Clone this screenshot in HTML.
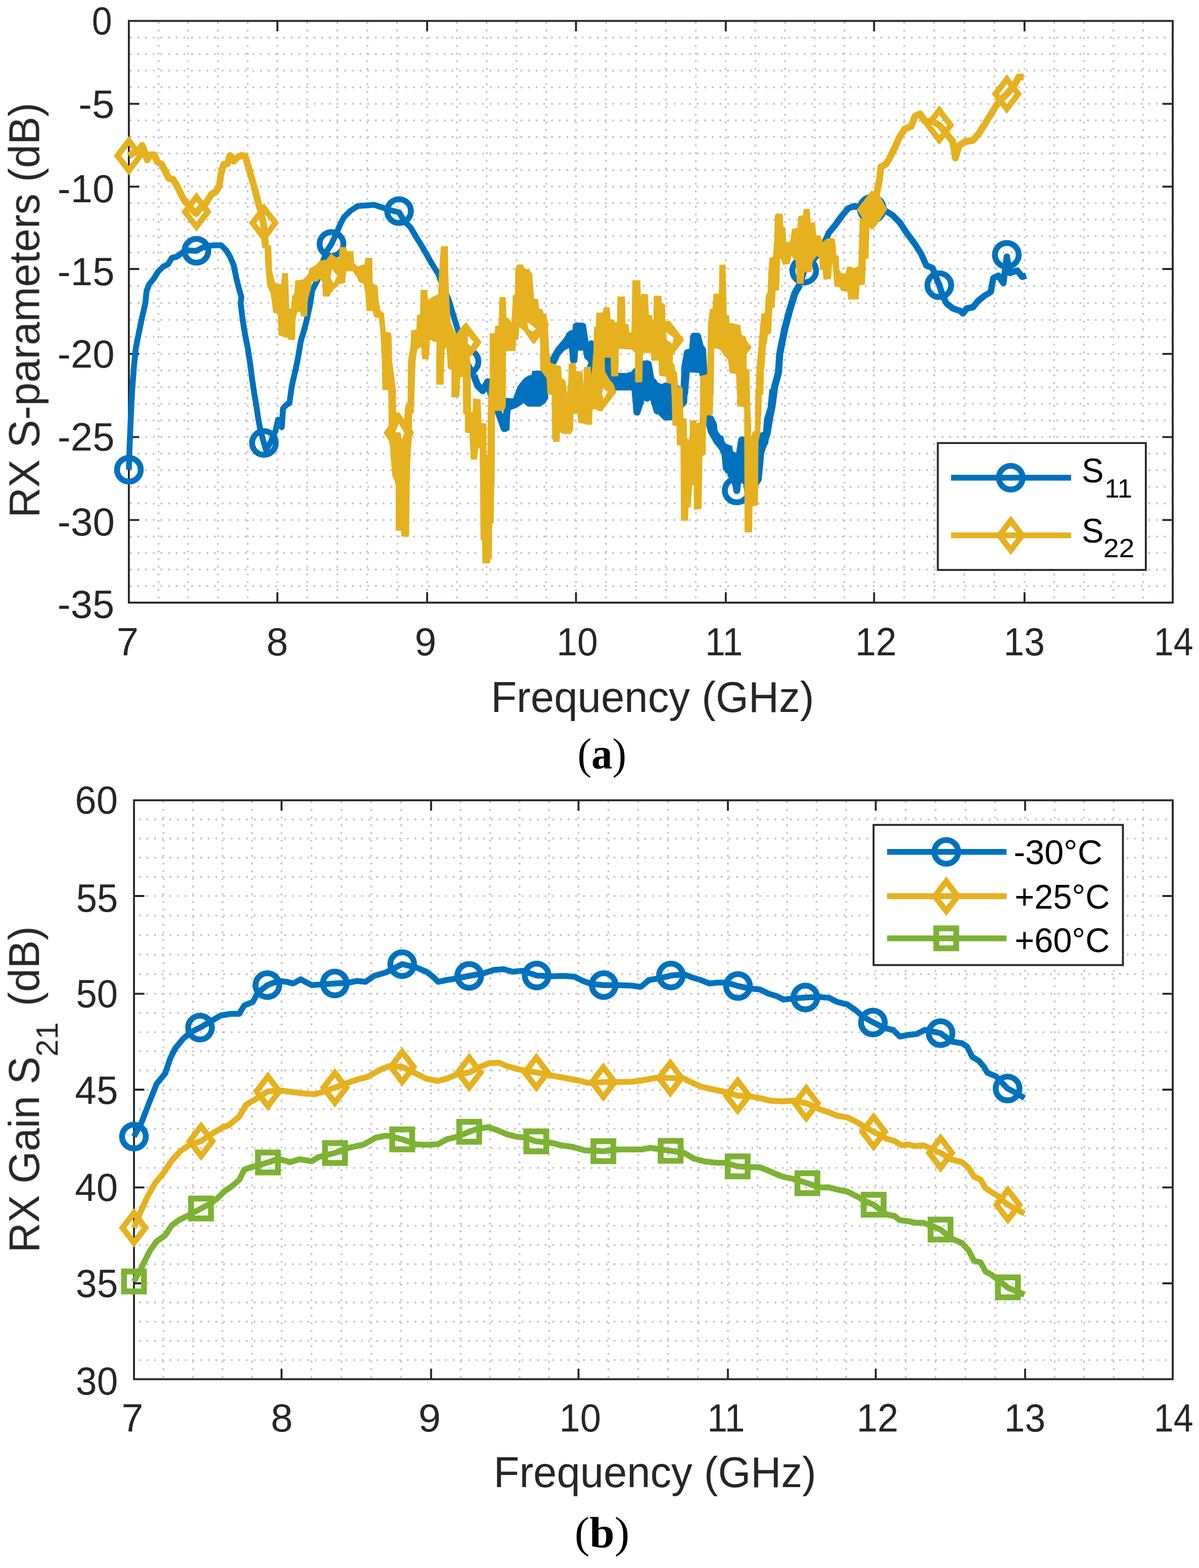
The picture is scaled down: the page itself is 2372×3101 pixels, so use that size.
<!DOCTYPE html>
<html lang="en"><head><meta charset="utf-8"><title>RX S-parameters and gain</title>
<style>
html,body{margin:0;padding:0;background:#fff}
body{width:2372px;height:3101px;overflow:hidden}
svg{display:block;font-family:"Liberation Sans",Arial,Helvetica,sans-serif}
</style></head><body>
<svg width="2372" height="3101" viewBox="0 0 2372 3101">
<defs><filter id="soft" filterUnits="userSpaceOnUse" x="0" y="0" width="2372" height="3101" color-interpolation-filters="sRGB"><feGaussianBlur stdDeviation="0.7"/></filter></defs>
<rect width="2372" height="3101" fill="#fff"/>
<g stroke="#c6c6c6" stroke-width="3.6" stroke-dasharray="3.6 11.55" fill="none">
<path d="M313.7 41.4V1191.8M372.4 41.4V1191.8M431.2 41.4V1191.8M489.9 41.4V1191.8M548.7 41.4V1191.8M608 41.4V1191.8M667.2 41.4V1191.8M726.5 41.4V1191.8M785.7 41.4V1191.8M845 41.4V1191.8M903.9 41.4V1191.8M962.8 41.4V1191.8M1021.7 41.4V1191.8M1080.6 41.4V1191.8M1139.5 41.4V1191.8M1198.8 41.4V1191.8M1258 41.4V1191.8M1317.3 41.4V1191.8M1376.5 41.4V1191.8M1435.8 41.4V1191.8M1494.5 41.4V1191.8M1553.2 41.4V1191.8M1611.8 41.4V1191.8M1670.5 41.4V1191.8M1729.2 41.4V1191.8M1788.7 41.4V1191.8M1848.2 41.4V1191.8M1907.8 41.4V1191.8M1967.3 41.4V1191.8M2026.8 41.4V1191.8M2085.4 41.4V1191.8M2144.1 41.4V1191.8M2202.7 41.4V1191.8M2261.4 41.4V1191.8" stroke-dashoffset="13.11"/>
<path d="M254.9 74.2H2320M254.9 107H2320M254.9 139.8H2320M254.9 172.6H2320M254.9 205.4H2320M254.9 238.1H2320M254.9 270.9H2320M254.9 303.6H2320M254.9 336.4H2320M254.9 369.1H2320M254.9 401.7H2320M254.9 434.3H2320M254.9 466.8H2320M254.9 499.4H2320M254.9 532H2320M254.9 565.6H2320M254.9 599.2H2320M254.9 632.7H2320M254.9 666.3H2320M254.9 699.9H2320M254.9 732.8H2320M254.9 765.7H2320M254.9 798.5H2320M254.9 831.4H2320M254.9 864.3H2320M254.9 897.1H2320M254.9 929.9H2320M254.9 962.8H2320M254.9 995.6H2320M254.9 1028.4H2320M254.9 1061.1H2320M254.9 1093.8H2320M254.9 1126.4H2320M254.9 1159.1H2320" stroke-dashoffset="13.18"/>
</g>
<path d="M548.7 41.4v20.5M548.7 1191.8v-20.5M845 41.4v20.5M845 1191.8v-20.5M1139.5 41.4v20.5M1139.5 1191.8v-20.5M1435.8 41.4v20.5M1435.8 1191.8v-20.5M1729.2 41.4v20.5M1729.2 1191.8v-20.5M2026.8 41.4v20.5M2026.8 1191.8v-20.5M254.9 205.4h20.5M2320 205.4h-20.5M254.9 369.1h20.5M2320 369.1h-20.5M254.9 532h20.5M2320 532h-20.5M254.9 699.9h20.5M2320 699.9h-20.5M254.9 864.3h20.5M2320 864.3h-20.5M254.9 1028.4h20.5M2320 1028.4h-20.5" stroke="#262626" stroke-width="3.8" fill="none"/>
<rect x="254.9" y="41.4" width="2065.1" height="1150.4" stroke="#262626" stroke-width="3.8" fill="none"/>
<rect x="1855.3" y="876.2" width="411.5" height="251" fill="#fff" stroke="#262626" stroke-width="3.8"/>
<g stroke="#c6c6c6" stroke-width="3.6" stroke-dasharray="3.6 11.55" fill="none">
<path d="M323.5 1582.7V2727.6M381.9 1582.7V2727.6M440.2 1582.7V2727.6M498.6 1582.7V2727.6M557 1582.7V2727.6M616.2 1582.7V2727.6M675.3 1582.7V2727.6M734.5 1582.7V2727.6M793.6 1582.7V2727.6M852.8 1582.7V2727.6M911.1 1582.7V2727.6M969.5 1582.7V2727.6M1027.8 1582.7V2727.6M1086.2 1582.7V2727.6M1144.5 1582.7V2727.6M1203.6 1582.7V2727.6M1262.7 1582.7V2727.6M1321.8 1582.7V2727.6M1380.9 1582.7V2727.6M1440 1582.7V2727.6M1498.5 1582.7V2727.6M1557 1582.7V2727.6M1615.5 1582.7V2727.6M1674 1582.7V2727.6M1732.5 1582.7V2727.6M1791.6 1582.7V2727.6M1850.7 1582.7V2727.6M1909.8 1582.7V2727.6M1968.9 1582.7V2727.6M2028 1582.7V2727.6M2086.4 1582.7V2727.6M2144.8 1582.7V2727.6M2203.2 1582.7V2727.6M2261.6 1582.7V2727.6" stroke-dashoffset="12.95"/>
<path d="M265.1 1620.6H2320M265.1 1658.4H2320M265.1 1696.3H2320M265.1 1734.1H2320M265.1 1772H2320M265.1 1810.7H2320M265.1 1849.3H2320M265.1 1888H2320M265.1 1926.6H2320M265.1 1965.3H2320M265.1 2003.2H2320M265.1 2041.2H2320M265.1 2079.1H2320M265.1 2117.1H2320M265.1 2155H2320M265.1 2193.7H2320M265.1 2232.4H2320M265.1 2271H2320M265.1 2309.7H2320M265.1 2348.4H2320M265.1 2386.3H2320M265.1 2424.2H2320M265.1 2462.2H2320M265.1 2500.1H2320M265.1 2538H2320M265.1 2575.9H2320M265.1 2613.8H2320M265.1 2651.8H2320M265.1 2689.7H2320" stroke-dashoffset="5.65"/>
</g>
<path d="M557 1582.7v20.5M557 2727.6v-20.5M852.8 1582.7v20.5M852.8 2727.6v-20.5M1144.5 1582.7v20.5M1144.5 2727.6v-20.5M1440 1582.7v20.5M1440 2727.6v-20.5M1732.5 1582.7v20.5M1732.5 2727.6v-20.5M2028 1582.7v20.5M2028 2727.6v-20.5M265.1 1772h20.5M2320 1772h-20.5M265.1 1965.3h20.5M2320 1965.3h-20.5M265.1 2155h20.5M2320 2155h-20.5M265.1 2348.4h20.5M2320 2348.4h-20.5M265.1 2538h20.5M2320 2538h-20.5" stroke="#262626" stroke-width="3.8" fill="none"/>
<rect x="265.1" y="1582.7" width="2054.9" height="1144.9" stroke="#262626" stroke-width="3.8" fill="none"/>
<rect x="1728.2" y="1631.4" width="493.3" height="277.2" fill="#fff" stroke="#262626" stroke-width="3.8"/>
<g filter="url(#soft)">
<polyline points="255,928.8 256.2,887.5 258.8,825 261.2,775 265,725 268.8,687.5 273.8,662.5 280,632.5 287.5,600 290,575 295,562.5 305,550 312.5,537.5 322.5,527.5 332.5,522.5 340,510 350,507.5 360,500 370,495 388.5,496.2 400,490 412.5,486.2 425,485 437.5,485 447.5,495 455,507.5 462.5,525 467.5,550 472.5,570 477.5,587.5 476.2,600 480,632.5 485,662.5 490,687.5 495,720 498.8,750 502.5,775 507.5,805 511.2,830 515,850 522.2,876.2 526.2,890 535,875 545,852.5 550,830 557.5,845 560,807.5 567.5,800 572.5,797.5 577.5,762.5 585,730 590,705 595,675 602.5,650 607.5,630 613.8,600 617.5,575 627.5,555 637.5,520 647.5,495 655.8,482.5 665,462.5 672.5,445 680,430 692.5,417.5 707.5,407.5 725,406.2 740,405 755,410 770,415 789.5,420 800,437.5 812.5,450 822.5,467.5 835,487.5 845,505 855,522.5 867.5,542.5 877.5,570 887.5,592.5 895,617.5 905,650 915,685 923,715 937.5,742.5" stroke="#0072bd" stroke-width="11.6" fill="none" stroke-linejoin="round" stroke-linecap="butt"/>
<polyline points="937.5,742.5 945,762.5 955,772.5 965,755 975,792.5 985,812.5 997.5,847.5 1005,800 1020,795 1030,767.5 1042.5,755 1056.5,770 1070,740 1080,755 1085,730 1095,710 1105,692.5 1117.5,677.5 1130,660 1135,712.5 1140,645 1152.5,645 1157.5,677.5 1162.5,705 1170,680 1180,705 1190.2,730 1202.5,710 1205,730 1215,747.5 1230,745 1240,745 1255,740 1260,815 1267.5,792.5 1275,722.5 1280,787.5 1292.5,755 1300,812.5 1272.5,720 1282.5,720 1287.5,750 1297.5,762.5 1310,767.5 1323.8,785 1335,812.5 1352.5,795 1355,725 1360,697.5 1370,695 1372.5,665 1380,665 1385,685 1390,692.5 1392.5,742.5 1400,825 1410,850 1420,865 1432.5,885 1440,930 1450,900 1457.5,970 1467.5,870 1480,977.5 1500,947.5 1505,895 1510,880 1517.5,857.5 1522.5,827.5 1527.5,802.5 1532.5,765 1540,737.5 1542.5,700 1552.5,650 1562.5,612.5 1572.5,580 1582.5,562.5" stroke="#0072bd" stroke-width="14" fill="none" stroke-linejoin="round" stroke-linecap="butt"/>
<polyline points="1582.5,562.5 1591,535 1610,512.5 1620,500 1630,482.5 1640,460 1652.5,445 1665,427.5 1677.5,412.5 1690,407.5 1702.5,410 1724.5,415 1752.5,417.5 1765,425 1780,440 1795,462.5 1810,482.5 1822.5,502.5 1832.5,525 1845,530 1852.5,550 1858.2,563.8 1865,585 1872.5,600 1885,610 1900,615 1905,620 1912.5,610 1925,607.5 1935,595 1947.5,585 1960,577.5 1965,550 1975,545 1985,560 1991.8,507.5 1997.5,540 2012.5,535 2022.5,547.5 2030,545" stroke="#0072bd" stroke-width="12.5" fill="none" stroke-linejoin="round" stroke-linecap="butt"/>
<g fill="#0072bd" stroke="#0072bd" stroke-width="1.5" stroke-linejoin="round">
<polygon points="1091.1,719.3 1094.6,703.2 1103.6,685.4 1116.1,676.4 1121.4,658.6 1133.9,656.8 1135.7,642.5 1155.4,642.5 1157.1,676.4 1173.2,678.2 1175.9,724.6 1169.6,724.6 1160.7,710.4 1158.9,692.5 1142.9,692.5 1141.1,715.7 1128.6,713.9 1126.8,687.1 1116.1,692.5 1107.1,703.2 1100,719.3"/>
<polygon points="1000,787.5 1023.2,789.3 1028.6,758.9 1035.7,751.8 1051.8,744.6 1053.6,733.9 1080.4,733.9 1083,753.6 1083.9,787.5 1078.6,796.4 1067.9,803.6 1044.6,803.6 1035.7,796.4 1023.2,805.4 1008.9,810.7 1007.1,850 1000,853.6"/>
<polygon points="1195.5,707.1 1208.9,707.1 1210.7,735.7 1217,737.5 1237.5,738.4 1241.1,742.9 1250,741.1 1251.8,732.1 1271.4,716.1 1283.9,716.1 1285.7,746.4 1292.9,750 1294.6,762.5 1300,764.3 1300,816.1 1294.6,803.6 1292.9,792.9 1285.7,789.3 1278.6,783.9 1267.9,791.1 1266.1,817.9 1255.4,817.9 1253.6,807.1 1250,771.4 1217,771.4 1212.5,758.9 1196.4,737.5"/>
<polygon points="1280,712.1 1285.4,744.3 1294.3,758.6 1303.2,767.5 1315.7,763.9 1328.2,762.1 1330,780 1280,780"/>
<polygon points="1351.4,780 1353.2,721.1 1358.6,697.9 1369.3,694.3 1371.1,663.9 1383.6,663.9 1385.4,683.6 1390.7,688.9 1394.3,717.5 1396.1,742.5 1385.4,744.3 1383.6,737.1 1363.9,735.4 1362.1,756.8 1360.4,780"/>
<polygon points="1280,770 1358.6,770 1356.8,793.2 1351.4,796.8 1328.2,830.7 1313.9,830.7 1297.9,814.6 1292.5,793.2 1280,784.3"/>
<polygon points="1397.9,821.8 1410.4,823.6 1417.5,837.9 1419.3,859.3 1430,862.9 1433.6,877.1 1447.9,882.5 1450.5,898.6 1456.8,896.8 1460.4,873.6 1471.1,867.3 1473.8,870 1473.8,948.6 1458.6,948.6 1451.4,966.4 1446.1,948.6 1439.8,941.4 1440.7,932.5 1430.9,928.9 1428.2,898.6 1422.9,887.9 1413.9,877.1 1408.6,868.2 1401.4,855.7 1397.9,841.4"/>
<polygon points="1499.6,873.6 1503.2,857.5 1510.4,853.9 1512.1,828.9 1519.3,805.7 1522.9,770 1535.4,770 1531.8,805.7 1526.4,820 1521.1,850.4 1519.3,877.1 1510.4,886.1 1506.8,895 1505,939.6 1499.6,953.9"/>
</g>
<g stroke="#0072bd" stroke-width="11.6" fill="none" stroke-linejoin="miter">
<circle cx="255" cy="929" r="23.5"/><circle cx="388.6" cy="496" r="23.5"/><circle cx="522.2" cy="876" r="23.5"/><circle cx="655.8" cy="482.5" r="23.5"/><circle cx="789.4" cy="417.5" r="23.5"/><circle cx="923" cy="715" r="23.5"/><circle cx="1056.6" cy="770" r="23.5"/><circle cx="1190.2" cy="731" r="23.5"/><circle cx="1323.8" cy="785" r="23.5"/><circle cx="1457.4" cy="970" r="23.5"/><circle cx="1591" cy="535" r="23.5"/><circle cx="1724.6" cy="413" r="23.5"/><circle cx="1858.2" cy="564" r="23.5"/><circle cx="1991.8" cy="504" r="23.5"/>
</g>
<polyline points="255,308 267.5,300 275,297.5 281.2,287.5 286.2,300 291.2,316.2 297.5,306.2 305,306.2 311.2,320 320,325 326.2,337.5 333.8,352.5 342.5,355 350,367.5 357.5,382.5 365,397.5 372.5,405 380,415 388,422.5 395,412.5 402.5,410 410,397.5 417.5,385 427.5,378.8 433.8,367.5 437.5,342.5 442.5,325 450,323.8 455,307.5 462.5,318.8 470,311.2 477.5,307.5 485,308.8 490,325 495,342.5 500,360 505,377.5 510,397.5 515,415 521.2,441.2 525,480 523.5,474 525.5,490" stroke="#e6b11f" stroke-width="13.5" fill="none" stroke-linejoin="round" stroke-linecap="butt"/>
<polyline points="1707.5,455 1724.5,415 1735,380 1740,355 1742.5,330 1752.5,325 1760,312.5 1770,292.5 1780,270 1790,255 1802.5,250 1810,230 1820,225 1830,240 1845,240 1858.2,247.5 1875,267.5 1885,280 1890,312.5 1897.5,287.5 1910,280 1925,277.5 1937.5,262.5 1950,242.5 1962.5,222.5 1975,202.5 1991.8,186.2 2007.5,167.5 2015,152.5 2025,152.5" stroke="#e6b11f" stroke-width="13.5" fill="none" stroke-linejoin="round" stroke-linecap="butt"/>
<g fill="#e6b11f" stroke="#e6b11f" stroke-width="1.5" stroke-linejoin="round">
<polygon points="524.1,483.9 535.7,485.7 536.6,507.1 537.5,535.7 542.9,557.1 546.4,562.5 557.1,562.5 558.9,541.1 568.8,541.1 570.5,578.6 571.4,610.7 576.8,610.7 578.6,585.7 583,580.4 584.8,555.4 600,553.6 610.7,542.9 612.5,532.1 625,525 633,516.1 646.4,514.3 655.4,501.8 660.7,507.1 671.4,512.5 672.3,489.3 683.9,489.3 685.7,497.3 698.2,497.3 700,521.4 708.9,528.6 714.3,525 722.3,523.2 723.2,510.7 735.7,510.7 736.6,560.7 746.4,566.1 748.2,592.9 751.8,614.3 758.9,619.6 762.5,657.1 773.2,658.9 775,700 755.4,700 753.6,658.9 750,628.6 741.1,626.8 737.5,614.3 725.9,614.3 723.2,576.8 719.6,560.7 710.7,557.1 707.1,548.2 698.2,535.7 683.9,535.7 682.1,558.9 671.4,560.7 666.1,566.1 655.4,575 651.8,585.7 639.3,585.7 638.4,557.1 632.1,550 628.6,555.4 616.1,557.1 614.3,571.4 608,592.9 607.1,625 596.4,625 594.6,616.1 587.5,616.1 583.9,632.1 583,671.4 571.4,671.4 569.6,667.9 551.8,662.5 550,619.6 541.1,617.9 538.4,596.4 535.7,578.6 529.5,566.1 526.8,539.3 525,514.3"/>
<polygon points="753.6,660 773.2,660 775,713.6 778.6,740.4 782.1,767.1 783,817.1 788.4,815.4 796.4,826.1 800,831.4 802.7,802.9 807.1,795.7 808,713.6 812.5,686.8 814.3,660 850,660 849.1,686.8 847.3,710 835.7,710 833.9,685 825,690.4 821.4,713.6 819.6,767.1 817.9,815.4 814.3,820.7 814.3,849.3 817.9,856.4 814.3,863.6 812.5,883.2 810.7,918.9 808.9,960 783.9,960 778.6,942.1 775,918.9 772.3,883.2 769.6,870.7 759.8,856.4 769.6,842.1 768.8,770.7 757.1,770.7 756.2,713.6"/>
<polygon points="855.4,660 855.4,674.3 864.3,676.1 863.4,760 876.8,760 878.6,692.1 883.9,683.2 886.6,727.9 893.8,731.4 893.8,785 908,785 909.8,745.7 916.1,743.9 917,817.1 920.5,820.7 920.5,854.6 929.5,856.4 932.1,908.2 942.9,908.2 945.5,885 950,886.8 950.9,960 961.6,960 961.6,838.6 951.8,836.8 950,790.4 936.6,788.6 935.7,815.4 931.2,815.4 930.4,720.7 927.7,702.9 937.5,695.7 950,676.1 937.5,660"/>
<polygon points="969.6,660 1000,660 1000,802.9 996.4,811.8 978.6,811.8 977.7,960 964.3,960 966.1,793.9 969.6,749.3"/>
<polygon points="773.2,900 810.7,900 809.8,953.6 808.6,1060.7 794.6,1060.7 794.3,1049.1 783.6,1049.1 783.6,942.9 776.8,942 775,917.9"/>
<polygon points="950,900 977.7,900 976.8,971.4 975.9,1033.9 972.9,1035.7 972.3,1105.4 968.8,1106.2 968.8,1113.4 955,1113.4 954.5,1067.9 951.4,1067"/>
<polygon points="813.9,672.1 813.9,654.3 824.6,652.5 825.5,623.9 831.8,622.1 832.7,573.9 844.3,573.9 846.1,593.6 858.6,586.4 867.5,582.9 869.3,536.4 872.9,488.2 885.4,487.3 886.2,540 888,591.8 890.7,636.4 901.4,663.2 910.4,650.7 922,638.2 933.6,654.3 950.5,677.5 940.7,693.6 933.6,672.1"/>
<polygon points="969.3,740 971.1,700.7 978.2,698.9 980,645.4 987.1,643.6 988.9,588.2 999.6,588.2 1001.4,627.5 1008.6,632.9 1012.1,641.8 1015.7,584.6 1019.3,582.9 1020.2,531.1 1023.8,523.9 1033.6,523.9 1037.1,531.1 1046.1,534.6 1052.3,541.8 1055.9,591.8 1063.9,592.7 1065.7,611.4 1072.9,613.2 1074.6,620.4 1080,622.1 1080,663.2 1069.3,663.2 1055,677.5 1038.9,654.3 1026.4,645.4 1024.6,670.4 1020.2,672.1 1019.3,693.6 999.6,693.6 998.8,740"/>
<polygon points="1000,628.2 1007.1,640.7 1014.3,640.7 1015.2,585.4 1019.6,583.6 1020.5,531.8 1023.2,524.6 1033.9,524.6 1035.7,531.8 1045.5,533.6 1051.8,540.7 1053.6,590.7 1063.4,592.5 1065.2,610.4 1071.4,612.1 1073.2,621.1 1080.4,622.9 1083,637.1 1083.9,658.6 1085.7,694.3 1087.5,719.3 1108.9,726.4 1110.7,747.9 1117.9,753.2 1121.4,780 1083.9,780 1082.1,747.9 1071.4,733.6 1070.5,730 1068.8,665.7 1062.5,669.3 1053.6,678.2 1042.9,662.1 1035.7,651.4 1026.8,644.3 1025,667.5 1019.6,672.9 1017.9,692.5 1000,694.3"/>
<polygon points="1126.8,719.3 1137.5,719.3 1139.3,735.4 1151.8,737.1 1153.6,780 1125.9,780"/>
<polygon points="1157.1,726.4 1167.9,726.4 1169.6,755 1174.1,755 1175,676.4 1175.9,647.9 1179.5,646.1 1180.4,619.3 1192.9,618.4 1194.6,608.6 1205.4,608.6 1207.1,631.8 1214.3,633.6 1216.1,638.9 1221.4,637.1 1222.3,587.1 1235.7,587.1 1236.6,640.7 1242.9,642.5 1244.6,658.6 1248.2,658.6 1250,653.2 1251.8,555 1266.1,555 1267,590.7 1269.6,581.8 1281.2,582.7 1283,622.9 1289.3,624.6 1290.2,640.7 1294.6,635.4 1294.6,585.4 1300,585.4 1300,712.1 1289.3,712.1 1289.3,697 1271.4,697 1269.6,755 1257.1,755 1257.1,697.9 1250,690.7 1223.2,688.9 1222.3,743.4 1209.8,743.4 1208.9,706.8 1194.6,706.8 1195.5,733.6 1203.6,747.9 1214.3,765.7 1214.3,780 1157.1,780"/>
<polygon points="1068.8,700 1087.5,700 1088.4,717.9 1108.9,725 1110.7,750 1117.9,753.6 1121.4,789.3 1125,753.6 1125.9,719.6 1137.5,717.9 1139.3,733.9 1151.8,735.7 1153.6,785.7 1156.2,726.8 1167.9,725.9 1169.6,751.8 1172.3,726.8 1174.1,700 1194.6,700 1195.5,707.1 1196.4,737.5 1201.8,746.4 1207.1,753.6 1212.5,758.9 1216.1,767.9 1214.3,776.8 1201.8,792.9 1196.4,801.8 1189.3,812.5 1185.7,812.5 1175.9,807.1 1171.4,810.7 1170.5,839.3 1160.7,839.3 1157.1,837.5 1144.6,835.7 1142.9,816.1 1133.9,817.9 1133,850 1128.6,858 1114.3,857.1 1107.1,853.6 1106.2,873.2 1095.5,873.2 1092.9,866.1 1092,769.6 1085.7,767.9 1083.9,753.6 1082.1,733.9 1069.6,732.1"/>
<polygon points="1208.9,700 1223.2,700 1222.3,742.9 1209.8,742.9"/>
<polygon points="1257.1,700 1270.5,700 1269.6,755.4 1258,755.4"/>
<polygon points="1289.3,700 1300,700 1300,712.5 1289.3,712.5"/>
<polygon points="1280,622.9 1288.9,624.6 1290.7,633.6 1293.4,631.8 1294.3,587.1 1307.7,585.4 1308.6,599.6 1314.8,601.4 1315.7,637.1 1322,635.4 1333.6,647.9 1340.7,658.6 1351.4,672.9 1342.5,685.4 1335.4,694.3 1330.9,701.4 1330,717.5 1333.6,721.1 1335.4,733.6 1338.9,737.1 1340.7,765.7 1349.6,767.5 1349.6,780 1329.1,780 1328.2,758.6 1319.3,756.8 1318.4,744.3 1305,742.5 1303.2,712.1 1289.8,712.1 1288.9,697.9 1280,697"/>
<polygon points="1385.4,780 1386.2,744.3 1399.6,740.7 1401.4,640.7 1405,612.1 1410.4,610.4 1412.1,581.8 1422.9,580.9 1423.8,524.6 1434.5,523.8 1437.1,622.9 1441.6,624.6 1442.5,638.9 1452.3,640.7 1463.9,643.4 1466.6,663.9 1474.6,665.7 1476.4,676.4 1483.6,688.9 1476.4,697.9 1476.4,730 1481.8,731.8 1482.7,780 1458.6,780 1456.8,738.9 1444.3,737.1 1440.7,710.4 1431.8,701.4 1426.4,692.5 1418.4,688 1412.1,688.9 1411.2,780"/>
<polygon points="1496.1,780 1497,730 1501.4,683.6 1505,640.7 1507.7,621.1 1513.9,619.3 1515.7,585.4 1519.3,580 1521.1,533.6 1522.9,510.4 1530,508.6 1531.8,480 1580,480 1580,515.7 1574.6,512.1 1572.9,499.6 1565.7,497.9 1562.1,521.1 1549.6,522.9 1546.1,513.9 1542.5,506.8 1539.8,572.9 1533.6,574.6 1531.8,606.8 1526.4,610.4 1524.6,658.6 1516.6,662.1 1513.9,694.3 1512.1,721.1 1510.4,733.6 1509.5,780"/>
<polygon points="1329.1,770 1349.6,770 1350.5,796.8 1351.4,827.1 1357.7,828.9 1358.6,868.2 1364.8,870 1365.7,832.5 1376.4,831.6 1377.3,837.9 1384.5,836.1 1385.4,816.4 1386.2,770 1410.4,770 1409.5,820 1397.9,820.9 1396.1,841.4 1395.2,898.6 1388.9,902.1 1387.1,1005.7 1373.8,1007.5 1372.9,957.5 1368.4,959.3 1365.7,1002.1 1361.2,1003.9 1360.4,1028.9 1347.9,1028.9 1347,880.7 1339.8,879.8 1338.9,841.4 1330.9,840.5"/>
<polygon points="1459.5,770 1482.7,770 1483.6,805.7 1485.4,846.8 1484.5,871.8 1488.9,855.7 1494.3,852.1 1495.2,770 1506.8,770 1505.9,805.7 1503.2,857.5 1499.6,873.6 1498.8,998.6 1488,1000.4 1487.1,1052.1 1473.8,1052.1 1472.9,805.7 1469.3,803.9 1458.6,803"/>
<polygon points="1503.2,680 1506.8,621.1 1514.8,619.3 1517.5,580 1522,578.2 1522.9,510.4 1531.8,508.6 1533.6,426.4 1537.1,422.9 1547.9,423.8 1548.8,447.9 1553.2,451.4 1555,480 1563.9,478.2 1567.5,453.2 1578.2,451.4 1580,428.2 1588.9,426.4 1590.7,413.9 1601.4,413.9 1603.2,440.7 1612.1,441.6 1613.9,465.7 1622.9,467.5 1628.2,480 1635.4,472.9 1647.9,471.1 1651.4,474.6 1654.1,505 1658.6,506.8 1659.5,533.6 1663.9,540.7 1672.9,542.5 1676.4,528.2 1685.4,528.2 1687.1,531.8 1696.1,528.2 1698.8,526.4 1701.4,433.6 1706.8,431.8 1697,413.9 1710.4,397.9 1721.1,381.8 1722.9,380 1738.9,380 1740.7,388.9 1754.1,413.9 1742.5,431.8 1730,449.6 1724.6,453.2 1719.3,447.9 1717.5,510.4 1712.1,512.1 1710.4,562.1 1699.6,563.9 1697.9,591.6 1678.2,591.6 1677.3,576.4 1663.9,574.6 1662.1,567.5 1651.4,565.7 1647.9,522.9 1646.1,512.1 1643.4,551.4 1630,552.3 1628.2,533.6 1622.9,531.8 1621.1,508.6 1615.7,505 1608.6,505 1605,537.1 1594.3,538 1591.6,528.2 1588.9,560.4 1577.3,560.4 1574.6,515.7 1569.3,497.9 1563.9,497.9 1562.1,519.3 1549.6,521.1 1545.2,512.1 1542.5,508.6 1540.7,572.9 1533.6,574.6 1531.8,606.8 1527.3,608.6 1524.6,658.6 1518.4,660.4 1516.6,680"/>
</g>
<g stroke="#e6b11f" stroke-width="11.6" fill="none" stroke-linejoin="miter">
<path d="M255 278.5l22.5 29.5l-22.5 29.5l-22.5 -29.5z"/><path d="M388.6 389.5l22.5 29.5l-22.5 29.5l-22.5 -29.5z"/><path d="M522.2 411.5l22.5 29.5l-22.5 29.5l-22.5 -29.5z"/><path d="M655.8 510.5l22.5 29.5l-22.5 29.5l-22.5 -29.5z"/><path d="M789.4 825.5l22.5 29.5l-22.5 29.5l-22.5 -29.5z"/><path d="M923 647.5l22.5 29.5l-22.5 29.5l-22.5 -29.5z"/><path d="M1056.6 612.5l22.5 29.5l-22.5 29.5l-22.5 -29.5z"/><path d="M1190.2 745.5l22.5 29.5l-22.5 29.5l-22.5 -29.5z"/><path d="M1323.8 642.5l22.5 29.5l-22.5 29.5l-22.5 -29.5z"/><path d="M1457.4 657.5l22.5 29.5l-22.5 29.5l-22.5 -29.5z"/><path d="M1591 470.5l22.5 29.5l-22.5 29.5l-22.5 -29.5z"/><path d="M1724.6 385.5l22.5 29.5l-22.5 29.5l-22.5 -29.5z"/><path d="M1858.2 218l22.5 29.5l-22.5 29.5l-22.5 -29.5z"/><path d="M1991.8 156.5l22.5 29.5l-22.5 29.5l-22.5 -29.5z"/>
</g>
<g fill="#fff"><polygon points="657,532 667,546 660,560 654,550"/><polygon points="789,838 800,856 795,868 792,855 782,855"/><polygon points="926,664 937,676 931,685 925,678"/><polygon points="1043,637 1060,650 1054,656 1046,651"/><polygon points="1193,768 1202,775 1194,789 1191,780"/><polygon points="1318,657 1333,668 1330,680 1319,672"/></g>
<g fill="#262626">
<text x="230.75" y="1295.8" font-size="77" textLength="43.31" lengthAdjust="spacingAndGlyphs">7</text>
<text x="527.11" y="1295.8" font-size="77" textLength="43.03" lengthAdjust="spacingAndGlyphs">8</text>
<text x="820.49" y="1295.8" font-size="77" textLength="42.7" lengthAdjust="spacingAndGlyphs">9</text>
<text x="1101.31" y="1295.8" font-size="77" textLength="81.55" lengthAdjust="spacingAndGlyphs">10</text>
<text x="1395.03" y="1295.8" font-size="77" textLength="74.4" lengthAdjust="spacingAndGlyphs">11</text>
<text x="1691.88" y="1295.8" font-size="77" textLength="81.93" lengthAdjust="spacingAndGlyphs">12</text>
<text x="1985.52" y="1295.8" font-size="77" textLength="81.39" lengthAdjust="spacingAndGlyphs">13</text>
<text x="2282.76" y="1295.8" font-size="77" textLength="77.9" lengthAdjust="spacingAndGlyphs">14</text>
<text x="181.8" y="68.4" font-size="77" textLength="39.95" lengthAdjust="spacingAndGlyphs">0</text>
<text x="155.3" y="232.9" font-size="77" textLength="71.04" lengthAdjust="spacingAndGlyphs">-5</text>
<text x="113.89" y="400.2" font-size="77" textLength="112.35" lengthAdjust="spacingAndGlyphs">-10</text>
<text x="113.88" y="563.7" font-size="77" textLength="112.62" lengthAdjust="spacingAndGlyphs">-15</text>
<text x="113.88" y="727.2" font-size="77" textLength="112.88" lengthAdjust="spacingAndGlyphs">-20</text>
<text x="113.88" y="890.7" font-size="77" textLength="112.62" lengthAdjust="spacingAndGlyphs">-25</text>
<text x="113.87" y="1058.6" font-size="77" textLength="113.09" lengthAdjust="spacingAndGlyphs">-30</text>
<text x="113.89" y="1222.4" font-size="77" textLength="112.3" lengthAdjust="spacingAndGlyphs">-35</text>
<text x="971.13" y="1407.5" font-size="85" textLength="639.39" lengthAdjust="spacingAndGlyphs">Frequency (GHz)</text>
<g transform="translate(77.5 1017.2) rotate(-90)"><text x="-6.84" y="0" font-size="85" textLength="821.01" lengthAdjust="spacingAndGlyphs">RX S-parameters (dB)</text></g>
</g>
<path d="M1881.5 944.8H2119" stroke="#0072bd" stroke-width="11.6"/>
<path d="M1881.5 1058.8H2119" stroke="#e6b11f" stroke-width="11.6"/>
<g stroke="#0072bd" stroke-width="11.6" fill="none" stroke-linejoin="miter">
<circle cx="1999.6" cy="944.8" r="23.5"/>
</g>
<g stroke="#e6b11f" stroke-width="11.6" fill="none" stroke-linejoin="miter">
<path d="M1999.6 1029.3l22.5 29.5l-22.5 29.5l-22.5 -29.5z"/>
</g>
<g fill="#000">
<text x="2140" y="954" font-size="68" textLength="43.47" lengthAdjust="spacingAndGlyphs">S</text>
<text x="2185.51" y="984" font-size="51" textLength="54.5" lengthAdjust="spacingAndGlyphs">11</text>
<text x="2140" y="1072.5" font-size="68" textLength="43.47" lengthAdjust="spacingAndGlyphs">S</text>
<text x="2182.65" y="1102" font-size="51" textLength="61.68" lengthAdjust="spacingAndGlyphs">22</text>
</g>
<polyline points="265,2247.7 280,2220 296.7,2176.7 310,2143.3 326.7,2123.3 336.7,2093.3 346.7,2073.3 363.3,2053.3 380,2040 395.7,2032.3 416.7,2020 436.7,2008.3 456.7,2005 473.3,2005 483.3,1988.3 500,1981.7 510,1963.3 529,1948.3 550,1940 566.7,1941.7 580,1945 595,1936.7 606.7,1943.3 616.7,1948.3 630,1947.3 662.3,1945 690,1943.3 706.7,1940 723.3,1941.7 740,1930 763.3,1923.3 770,1920 795.7,1906.7 823.3,1913.3 843.3,1921.7 856.7,1931.7 866.7,1941.7 883.3,1938.3 903.3,1935 928.3,1930 956.7,1925 976.7,1918.3 996.7,1916.7 1013.3,1921.7 1033.3,1920 1061.7,1929.3 1090,1930.7 1116.7,1930 1136.7,1931.7 1153.3,1940 1170,1946 1194.3,1948.3 1223.3,1948.3 1250,1949.3 1266.7,1951.7 1270,1950 1283.3,1938.3 1303.3,1935 1327.3,1929.3 1353.3,1926.7 1370,1933.3 1386.7,1938.3 1403.3,1945 1420,1943.3 1436.7,1943.3 1460,1950 1483.3,1955 1503.3,1956.7 1520,1965 1536.7,1970 1550,1976.7 1566.7,1975 1593.3,1972.7 1620,1971.7 1640,1973.3 1656.7,1981.7 1676.7,1986.7 1693.3,1998.3 1706.7,2010 1726.7,2021.7 1750,2033.3 1766.7,2036.7 1780,2050 1796.7,2046.7 1813.3,2045 1830,2036.7 1860.7,2043.3 1883.3,2060 1903.3,2063.3 1913.3,2070 1923.3,2090 1936.7,2098.3 1946.7,2110 1953.3,2121.7 1970,2128.3 1993.3,2152.7 2013.3,2163.3 2026.7,2171.7" stroke="#0072bd" stroke-width="11.6" fill="none" stroke-linejoin="round" stroke-linecap="butt"/>
<g stroke="#0072bd" stroke-width="11.6" fill="none" stroke-linejoin="miter">
<circle cx="265" cy="2247.7" r="23.5"/><circle cx="395.7" cy="2032.3" r="23.5"/><circle cx="529" cy="1948.3" r="23.5"/><circle cx="662.3" cy="1945" r="23.5"/><circle cx="795.7" cy="1906.7" r="23.5"/><circle cx="928.3" cy="1930" r="23.5"/><circle cx="1061.7" cy="1929.3" r="23.5"/><circle cx="1194.3" cy="1948.3" r="23.5"/><circle cx="1327.3" cy="1929.3" r="23.5"/><circle cx="1460" cy="1950" r="23.5"/><circle cx="1593.3" cy="1972.7" r="23.5"/><circle cx="1726.9" cy="2022.2" r="23.5"/><circle cx="1860.7" cy="2043.3" r="23.5"/><circle cx="1993.3" cy="2152.7" r="23.5"/>
</g>
<polyline points="265,2428.3 276.7,2400 290,2370 306.7,2340 323.3,2320 340,2295 356.7,2276.7 373.3,2265 397.7,2256.7 420,2241.7 440,2230 453.3,2225 473.3,2208.3 486.7,2185 506.7,2173.3 530,2158.3 556.7,2156.7 580,2160 603.3,2162.7 623.3,2164 636.7,2160 662.7,2151 690,2140.7 706.7,2135 726.7,2130 750,2116.7 770,2108.3 795.7,2110 823.3,2123.3 843.3,2133.3 866.7,2137.7 883.3,2133.3 903.3,2125 928.3,2121 950,2110 966.7,2102.7 986.7,2101.7 1003.3,2108.3 1026.7,2115 1061,2121 1090,2126.7 1116.7,2131.7 1143.3,2136.7 1163.3,2141.7 1193.7,2140 1223.3,2140 1250,2139.3 1270,2136.7 1296.7,2131.7 1326,2131.7 1353.3,2133.3 1370,2141.7 1390,2150 1413.3,2155 1436.7,2160 1459.3,2166.7 1483.3,2168.3 1503.3,2171.7 1523.3,2176.7 1546.7,2178.3 1570,2176.7 1595,2181.7 1620,2193.3 1640,2200 1656.7,2206.7 1676.7,2210 1696.7,2220 1710,2228.3 1728.3,2238.3 1753.3,2251.7 1770,2256.7 1783.3,2265 1796.7,2263.3 1810,2266.7 1826.7,2265 1860.7,2280 1883.3,2293.3 1903.3,2298.3 1916.7,2310 1926.7,2326.7 1940,2333.3 1950,2350 1960,2356.7 1973.3,2365 1994,2382.7 2013.3,2393.3 2026.7,2400" stroke="#e6b11f" stroke-width="11.6" fill="none" stroke-linejoin="round" stroke-linecap="butt"/>
<g stroke="#e6b11f" stroke-width="11.6" fill="none" stroke-linejoin="miter">
<path d="M265 2398.8l22.5 29.5l-22.5 29.5l-22.5 -29.5z"/><path d="M397.7 2227.2l22.5 29.5l-22.5 29.5l-22.5 -29.5z"/><path d="M530 2128.8l22.5 29.5l-22.5 29.5l-22.5 -29.5z"/><path d="M662.5 2121.8l22.5 29.5l-22.5 29.5l-22.5 -29.5z"/><path d="M795.7 2080.5l22.5 29.5l-22.5 29.5l-22.5 -29.5z"/><path d="M928.3 2091.5l22.5 29.5l-22.5 29.5l-22.5 -29.5z"/><path d="M1061 2091.5l22.5 29.5l-22.5 29.5l-22.5 -29.5z"/><path d="M1193.7 2110.5l22.5 29.5l-22.5 29.5l-22.5 -29.5z"/><path d="M1326 2102.2l22.5 29.5l-22.5 29.5l-22.5 -29.5z"/><path d="M1459.3 2137.2l22.5 29.5l-22.5 29.5l-22.5 -29.5z"/><path d="M1595 2152.2l22.5 29.5l-22.5 29.5l-22.5 -29.5z"/><path d="M1728.3 2208.8l22.5 29.5l-22.5 29.5l-22.5 -29.5z"/><path d="M1860.7 2250.5l22.5 29.5l-22.5 29.5l-22.5 -29.5z"/><path d="M1994 2353.2l22.5 29.5l-22.5 29.5l-22.5 -29.5z"/>
</g>
<polyline points="265,2534.3 276.7,2513.3 286.7,2493.3 296.7,2473.3 310,2455 326.7,2443.3 340,2423.3 353.3,2413.3 370,2405 397.7,2390 416.7,2380 430,2370 443.3,2356.7 460,2345 473.3,2333.3 483.3,2313.3 496.7,2308.3 530,2299 550,2291.7 573.3,2298.3 593.3,2292.7 616.7,2296.7 630,2288.3 662.7,2280 690,2270 720,2263.3 743.3,2250 763.3,2246 770,2246.7 795.7,2253.3 823.3,2263.3 846.7,2264 866.7,2262.7 883.3,2253.3 903.3,2248.3 928.3,2238.3 946.7,2231.7 966.7,2229.3 983.3,2235 1003.3,2243.3 1023.3,2248.3 1040,2250 1061,2257.3 1090,2260 1110,2265 1133.3,2268.3 1156.7,2275 1193.7,2276.7 1223.3,2273.3 1250,2273.3 1266.7,2273.3 1270,2273.3 1286.7,2270 1303.3,2272.7 1326.7,2276 1353.3,2280 1373.3,2291.7 1393.3,2296.7 1413.3,2299.3 1436.7,2300 1459.3,2306.7 1483.3,2308.3 1503.3,2308.3 1523.3,2316.7 1546.7,2326.7 1570,2331.7 1597.3,2340 1620,2348.3 1640,2348.3 1660,2353.3 1676.7,2356.7 1696.7,2366.7 1710,2375 1728.3,2382.3 1753.3,2401.7 1770,2405 1780,2413.3 1796.7,2415 1810,2418.3 1826.7,2418.3 1860.7,2431.7 1883.3,2450 1903.3,2458.3 1916.7,2473.3 1926.7,2493.3 1940,2496.7 1950,2515 1960,2520 1973.3,2530 1994,2546.7 2013.3,2555 2026.7,2560" stroke="#7db233" stroke-width="11.6" fill="none" stroke-linejoin="round" stroke-linecap="butt"/>
<g stroke="#7db233" stroke-width="11.6" fill="none" stroke-linejoin="miter">
<rect x="245.3" y="2514.6" width="39.4" height="39.4"/><rect x="378" y="2370.3" width="39.4" height="39.4"/><rect x="510.3" y="2279.3" width="39.4" height="39.4"/><rect x="643" y="2260.6" width="39.4" height="39.4"/><rect x="776" y="2233.6" width="39.4" height="39.4"/><rect x="908.6" y="2218.6" width="39.4" height="39.4"/><rect x="1041.3" y="2237.6" width="39.4" height="39.4"/><rect x="1174" y="2257" width="39.4" height="39.4"/><rect x="1307" y="2256.3" width="39.4" height="39.4"/><rect x="1439.6" y="2287" width="39.4" height="39.4"/><rect x="1577.6" y="2320.3" width="39.4" height="39.4"/><rect x="1708.6" y="2362.8" width="39.4" height="39.4"/><rect x="1841" y="2412" width="39.4" height="39.4"/><rect x="1974.3" y="2526.3" width="39.4" height="39.4"/>
</g>
<g fill="#262626">
<text x="240.59" y="2831.2" font-size="77" textLength="42.95" lengthAdjust="spacingAndGlyphs">7</text>
<text x="535.67" y="2831.2" font-size="77" textLength="43.51" lengthAdjust="spacingAndGlyphs">8</text>
<text x="827.65" y="2831.2" font-size="77" textLength="44.27" lengthAdjust="spacingAndGlyphs">9</text>
<text x="1106.44" y="2831.2" font-size="77" textLength="82.45" lengthAdjust="spacingAndGlyphs">10</text>
<text x="1399.34" y="2831.2" font-size="77" textLength="74.28" lengthAdjust="spacingAndGlyphs">11</text>
<text x="1694.84" y="2831.2" font-size="77" textLength="82.49" lengthAdjust="spacingAndGlyphs">12</text>
<text x="1986.82" y="2831.2" font-size="77" textLength="81.39" lengthAdjust="spacingAndGlyphs">13</text>
<text x="2282.76" y="2831.2" font-size="77" textLength="77.9" lengthAdjust="spacingAndGlyphs">14</text>
<text x="148.26" y="1609" font-size="77" textLength="84.81" lengthAdjust="spacingAndGlyphs">60</text>
<text x="150.78" y="1802.5" font-size="77" textLength="82.65" lengthAdjust="spacingAndGlyphs">55</text>
<text x="150.48" y="1992" font-size="77" textLength="82.72" lengthAdjust="spacingAndGlyphs">50</text>
<text x="148.36" y="2182.8" font-size="77" textLength="85.17" lengthAdjust="spacingAndGlyphs">45</text>
<text x="148.37" y="2374.8" font-size="77" textLength="84.91" lengthAdjust="spacingAndGlyphs">40</text>
<text x="150.08" y="2565.2" font-size="77" textLength="83.39" lengthAdjust="spacingAndGlyphs">35</text>
<text x="150.09" y="2758.3" font-size="77" textLength="83.12" lengthAdjust="spacingAndGlyphs">30</text>
<text x="976.55" y="2941.2" font-size="85" textLength="638.17" lengthAdjust="spacingAndGlyphs">Frequency (GHz)</text>
<g transform="translate(77.2 2470.6) rotate(-90)"><text x="-6.76" y="0" font-size="85" textLength="387.85" lengthAdjust="spacingAndGlyphs">RX Gain S</text><text x="380.97" y="37.3" font-size="61" textLength="67.91" lengthAdjust="spacingAndGlyphs">21</text><text x="480.83" y="0" font-size="85" textLength="158.01" lengthAdjust="spacingAndGlyphs">(dB)</text></g>
</g>
<path d="M1755 1684.8H1991.3" stroke="#0072bd" stroke-width="11.6"/>
<g stroke="#0072bd" stroke-width="11.6" fill="none" stroke-linejoin="miter">
<circle cx="1872" cy="1684.8" r="23.5"/>
</g>
<path d="M1755 1772.4H1991.3" stroke="#e6b11f" stroke-width="11.6"/>
<g stroke="#e6b11f" stroke-width="11.6" fill="none" stroke-linejoin="miter">
<path d="M1872 1742.9l22.5 29.5l-22.5 29.5l-22.5 -29.5z"/>
</g>
<path d="M1755 1855.7H1991.3" stroke="#7db233" stroke-width="11.6"/>
<g stroke="#7db233" stroke-width="11.6" fill="none" stroke-linejoin="miter">
<rect x="1852.3" y="1836" width="39.4" height="39.4"/>
</g>
<g fill="#000">
<text x="2005.48" y="1709.3" font-size="68" textLength="175.62" lengthAdjust="spacingAndGlyphs">-30°C</text>
<text x="2007.18" y="1796.5" font-size="68" textLength="188.42" lengthAdjust="spacingAndGlyphs">+25°C</text>
<text x="2007.18" y="1883.2" font-size="68" textLength="188.42" lengthAdjust="spacingAndGlyphs">+60°C</text>
</g>
<text x="1190.8" y="1520" font-size="87" fill="#000" text-anchor="middle" textLength="96.8" lengthAdjust="spacingAndGlyphs" font-family="'Liberation Serif','DejaVu Serif',serif">(<tspan font-weight="bold">a</tspan>)</text>
<text x="1191" y="3059.5" font-size="87" fill="#000" text-anchor="middle" textLength="108.6" lengthAdjust="spacingAndGlyphs" font-family="'Liberation Serif','DejaVu Serif',serif">(<tspan font-weight="bold">b</tspan>)</text>
</g>
</svg>
</body></html>
